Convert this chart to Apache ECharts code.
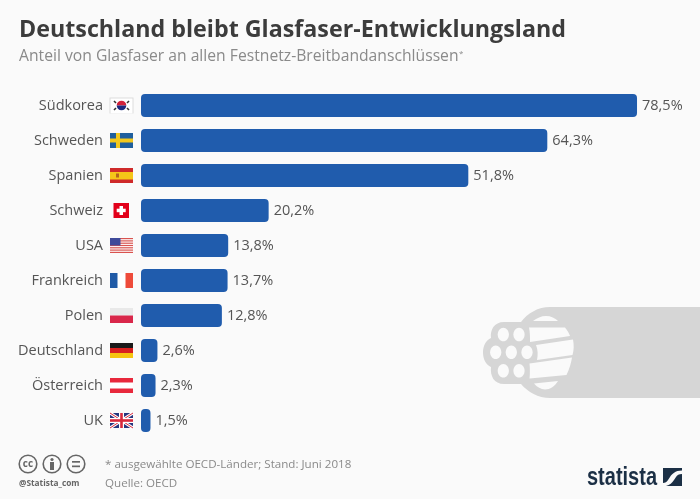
<!DOCTYPE html>
<html>
<head>
<meta charset="utf-8">
<style>
  html, body { margin: 0; padding: 0; background: #fafafa; }
  #chart { width: 700px; height: 499px; }
</style>
<script src="https://cdn.jsdelivr.net/npm/echarts@6/dist/echarts.min.js"></script>
</head>
<body>
<div id="chart"></div>
<script>
const categories = ['Südkorea', 'Schweden', 'Spanien', 'Schweiz', 'USA', 'Frankreich', 'Polen', 'Deutschland', 'Österreich', 'UK']
const shares = [78.5, 64.3, 51.8, 20.2, 13.8, 13.7, 12.8, 2.6, 2.3, 1.5]
const flagCodes = ['kr', 'se', 'es', 'ch', 'us', 'fr', 'pl', 'de', 'at', 'uk']

const FONT = '"Open Sans", "Noto Sans", sans-serif'
const TEXT = '#555555'
const GREY = '#8a8a8a'
const CABLE = '#d6d6d6'
const BG = '#fafafa'

function rect(x, y, width, height, fill) {
  return { type: 'rect', shape: { x, y, width, height }, style: { fill } }
}
function circle(cx, cy, r, fill) {
  return { type: 'circle', shape: { cx, cy, r }, style: { fill } }
}
function line(x1, y1, x2, y2, stroke, lineWidth) {
  return { type: 'line', shape: { x1, y1, x2, y2 }, style: { stroke, lineWidth } }
}
// the graphic component has no plain path type, so each outline is registered as a shape
let shapeCount = 0
function outline(pathData, fill) {
  const name = 'outline' + shapeCount++
  echarts.graphic.registerShape(name, echarts.graphic.extendPath(pathData, {}))
  return { type: name, silent: true, style: { fill } }
}

// flags live in a 23x15 box, the origin is the top left corner
const flags = {
  kr: () => [
    rect(-0.5, -0.5, 24, 16, '#dddddd'), rect(0.5, 0.5, 22, 15, '#ffffff'),
    { type: 'sector', shape: { cx: 11.5, cy: 7.5, r: 4.8, startAngle: Math.PI, endAngle: 0 }, style: { fill: '#d3213a' } },
    { type: 'sector', shape: { cx: 11.5, cy: 7.5, r: 4.8, startAngle: 0, endAngle: Math.PI }, style: { fill: '#1c2a80' } },
    line(4, 3, 6, 5, '#333', 1.6), line(19, 3, 17, 5, '#333', 1.6),
    line(4, 12, 6, 10, '#333', 1.6), line(19, 12, 17, 10, '#333', 1.6),
  ],
  se: () => [rect(0, 0, 23, 15, '#1f5f9e'), rect(6, 0, 4, 15, '#f2c81e'), rect(0, 5.5, 23, 4, '#f2c81e')],
  es: () => [rect(0, 0, 23, 15, '#cf2a2a'), rect(0, 4, 23, 7.5, '#f5c518'), rect(6, 5.5, 3, 4, '#b5651d')],
  ch: () => [rect(3.5, 0, 15.5, 15, '#e2001a'), rect(9.5, 3, 3.5, 9, '#ffffff'), rect(6.7, 5.7, 9, 3.5, '#ffffff')],
  us: () => {
    const parts = [rect(0, 0, 23, 15, '#ffffff')]
    for (let i = 0; i < 7; i++) parts.push(rect(0, i * 2.3, 23, 1.2, '#d9534f'))
    parts.push(rect(0, 0, 10.5, 7.5, '#3f4a9a'))
    return parts
  },
  fr: () => [rect(0, 0, 23, 15, '#ffffff'), rect(0, 0, 7.5, 15, '#1f5aa6'), rect(15.5, 0, 7.5, 15, '#ee4b3a')],
  pl: () => [rect(0, 0, 23, 7.5, '#e9e9e9'), rect(0, 7.5, 23, 7.5, '#d9274a')],
  de: () => [rect(0, 0, 23, 5, '#1a1a1a'), rect(0, 5, 23, 5, '#d8201f'), rect(0, 10, 23, 5, '#f6c40f')],
  at: () => [rect(0, 0, 23, 15, '#ffffff'), rect(0, 0, 23, 4.5, '#e8283c'), rect(0, 10.5, 23, 4.5, '#e8283c')],
  uk: () => [
    rect(0, 0, 23, 15, '#27357e'),
    line(0, 0, 23, 15, '#ffffff', 3), line(23, 0, 0, 15, '#ffffff', 3),
    line(0, 0, 23, 15, '#d8283c', 1), line(23, 0, 0, 15, '#d8283c', 1),
    rect(9, 0, 5, 15, '#ffffff'), rect(0, 5, 23, 5, '#ffffff'),
    rect(10.2, 0, 2.6, 15, '#d8283c'), rect(0, 6.2, 23, 2.6, '#d8283c'),
  ],
}

// flags sit left of the axis, at each category's own row
function renderFlag(params, api) {
  const pos = api.coord([0, api.value(1)])
  return {
    type: 'group',
    x: pos[0] - 31,
    y: pos[1] - 7.5,
    children: flags[flagCodes[params.dataIndex]](),
  }
}

function label(x, y, text, fontSize, fontWeight, fill, extra) {
  return {
    type: 'text', x, y, silent: true,
    style: Object.assign({ text, fontSize, fontWeight, fill, fontFamily: FONT, verticalAlign: 'middle' }, extra),
  }
}
function hole(cx, cy) {
  return { type: 'ellipse', shape: { cx, cy, rx: 5.6, ry: 6.8 }, style: { fill: BG } }
}

// the fibre cable in the lower right corner
const cable = [
  outline('M700 307 L550 307 C538 307 528 313 521 322 L504 322 C494 322 490 330 491 338 C486 340 483 346 483 352.5 C483 359 486 365 491 367 C490 376 494 384 504 384 L521 384 C528 392 538 398 550 398 L700 398 Z', CABLE),
  outline('M533 321 C537 318 541 316 546 316 C551 316 555 318 558 321 Z', BG),
  outline('M529 327.5 L565 327.5 C567 330 569 333 570 336 L530 342 C530 337 530 332 529 327.5 Z', BG),
  outline('M536 345 L573 339.5 C574 345 574 350 572.5 355 L537 360 C538 355 538 350 536 345 Z', BG),
  outline('M529.5 363.5 L572 357.5 C571 364 569 370 566.5 375 L529.5 378.5 C530 374 530 368 529.5 363.5 Z', BG),
  outline('M534 383.5 L558 381 C555 386 550 389.5 545 389.5 C541 389.5 537 387 534 383.5 Z', BG),
  hole(503.3, 334.5), hole(519, 334.5),
  hole(495.7, 352.3), hole(511.3, 352.3), hole(527, 352.3),
  hole(503.3, 370.7), hole(519, 370.7),
]

// CC badge icons and the statista logo
const ccRing = { fill: 'none', stroke: '#666666', lineWidth: 1.6 }
const badges = [
  { type: 'circle', shape: { cx: 28, cy: 464, r: 8.8 }, style: ccRing },
  { type: 'circle', shape: { cx: 52, cy: 464, r: 8.8 }, style: ccRing },
  { type: 'circle', shape: { cx: 76, cy: 464, r: 8.8 }, style: ccRing },
  label(28, 464.5, 'cc', 10, 'bold', '#666666', { align: 'center' }),
  circle(52, 459.5, 1.6, '#666666'), rect(50, 462, 4, 8, '#666666'),
  rect(72, 461, 8, 1.7, '#666666'), rect(72, 465.5, 8, 1.7, '#666666'),
]
const logo = [
  // no narrow face is installed, so the wordmark is squeezed sideways
  Object.assign(label(587, 478, 'statista', 25, 'bold', '#1b2f45', { fontFamily: '"Liberation Sans", sans-serif' }), { scaleX: 0.8 }),
  outline('M663 468 L682 468 L682 470.5 C675 470.5 672 474 670 477 L668 480 C667 482 665 483 663 483 Z M682 486 L666 486 C670 485 672 483 674 480 L676 477 C677 475 679 474 682 474 Z', '#1b2f45'),
]

const option = {
  backgroundColor: BG,
  animation: false,
  textStyle: { fontFamily: FONT },
  grid: { left: 141, right: 53.5, top: 88, height: 350 },
  xAxis: { type: 'value', min: 0, max: 80, show: false },
  yAxis: {
    type: 'category',
    data: categories,
    inverse: true,
    axisLine: { show: false },
    axisTick: { show: false },
    axisLabel: { margin: 38, fontSize: 14.5, color: TEXT, fontFamily: FONT },
  },
  series: [
    {
      type: 'bar',
      data: shares,
      barWidth: 23,
      itemStyle: { color: '#205cad', borderRadius: 4 },
      label: {
        show: true,
        position: 'right',
        distance: 5,
        fontSize: 14.5,
        color: TEXT,
        fontFamily: FONT,
        formatter: (p) => String(p.value).replace('.', ',') + '%',
      },
    },
    {
      type: 'custom',
      renderItem: renderFlag,
      data: categories.map((c, i) => [0, i]),
      encode: { x: 0, y: 1 },
      silent: true,
      clip: false,
    },
  ],
  graphic: [
    label(19, 30, 'Deutschland bleibt Glasfaser-Entwicklungsland', 23.25, 'bold', '#3c3c3c'),
    label(19, 57, 'Anteil von Glasfaser an allen Festnetz-Breitbandanschlüssen', 15.7, 'normal', GREY),
    label(459, 54, '*', 8, 'normal', GREY),
    label(105, 465, '* ausgewählte OECD-Länder; Stand: Juni 2018', 11.6, 'normal', GREY),
    label(105, 483.5, 'Quelle: OECD', 11.6, 'normal', GREY),
    label(19, 483.5, '@Statista_com', 8.3, 'bold', '#666666'),
  ].concat(cable, badges, logo),
}

const chart = echarts.init(document.getElementById('chart'))
chart.setOption(option)
</script>
</body>
</html>
